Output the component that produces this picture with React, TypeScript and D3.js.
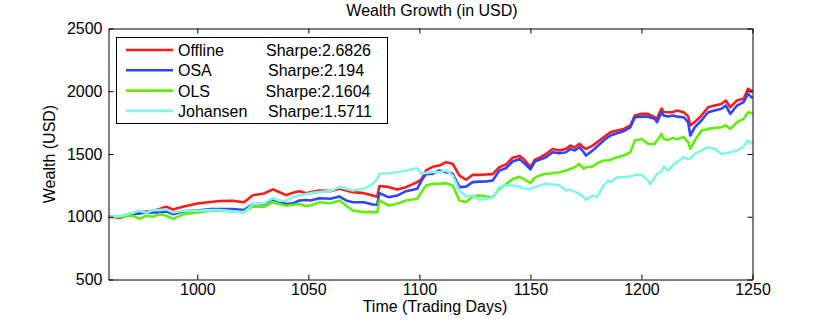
import React, { useRef, useEffect } from 'react';
import * as d3 from 'd3';

const DAYS = [
  960, 965, 971, 974, 977, 980, 983, 986, 989, 994,
  1000, 1006, 1010, 1016, 1021, 1025, 1030, 1034, 1037, 1040,
  1043, 1046, 1049, 1051, 1055, 1060, 1064, 1067, 1070, 1075,
  1079, 1081, 1082, 1086, 1090, 1094, 1099, 1101, 1103, 1106,
  1109, 1112, 1115, 1118, 1121, 1124, 1127, 1130, 1133, 1136,
  1139, 1142, 1145, 1147, 1150, 1152, 1154, 1157, 1160, 1163,
  1166, 1168, 1170, 1172, 1174, 1175, 1178, 1180, 1183, 1185,
  1186, 1189, 1192, 1195, 1197, 1200, 1203, 1204, 1206, 1207,
  1209, 1210, 1212, 1214, 1216, 1219, 1221, 1222, 1224, 1227,
  1230, 1233, 1236, 1238, 1240, 1243, 1246, 1248, 1250,
];

const OFFLINE = [
  1000, 992, 1025, 1035, 1042, 1048, 1062, 1080, 1058, 1082,
  1105, 1118, 1125, 1128, 1115, 1172, 1185, 1218, 1195, 1172,
  1192, 1204, 1188, 1196, 1209, 1204, 1223, 1209, 1196, 1188,
  1169, 1160, 1245, 1238, 1217, 1236, 1276, 1300, 1370, 1398,
  1408, 1435, 1422, 1329, 1295, 1335, 1334, 1337, 1340, 1395,
  1416, 1470, 1485, 1460, 1395, 1455, 1470, 1500, 1540, 1528,
  1541, 1567, 1552, 1581, 1550, 1541, 1567, 1594, 1634, 1660,
  1674, 1687, 1700, 1727, 1806, 1820, 1820, 1810, 1793, 1780,
  1862, 1835, 1833, 1833, 1846, 1833, 1800, 1727, 1755, 1806,
  1873, 1886, 1899, 1926, 1873, 1926, 1940, 2020, 1995,
];

const OSA = [
  1000, 1000, 1021, 1027, 1035, 1035, 1035, 1043, 1021, 1043,
  1050, 1061, 1061, 1061, 1053, 1101, 1101, 1141, 1115, 1101,
  1107, 1130, 1133, 1130, 1148, 1143, 1161, 1130, 1116, 1116,
  1098, 1095, 1188, 1156, 1169, 1204, 1223, 1289, 1342, 1342,
  1369, 1355, 1342, 1236, 1240, 1276, 1280, 1281, 1289, 1369,
  1387, 1440, 1460, 1430, 1378, 1440, 1453, 1474, 1514, 1506,
  1514, 1541, 1528, 1554, 1514, 1488, 1528, 1559, 1607, 1635,
  1647, 1666, 1682, 1713, 1793, 1798, 1798, 1790, 1780, 1753,
  1833, 1806, 1798, 1806, 1798, 1793, 1753, 1647, 1713, 1767,
  1833, 1846, 1860, 1886, 1820, 1886, 1913, 1979, 1945,
];

const OLS = [
  1000, 1000, 1008, 983, 1008, 1000, 1021, 1008, 983, 1021,
  1035, 1048, 1048, 1043, 1040, 1080, 1080, 1115, 1101, 1088,
  1095, 1100, 1085, 1090, 1116, 1108, 1130, 1090, 1050, 1037,
  1037, 1035, 1130, 1090, 1103, 1130, 1143, 1200, 1249, 1262,
  1262, 1268, 1249, 1130, 1115, 1161, 1169, 1161, 1156, 1222,
  1260, 1300, 1318, 1300, 1268, 1312, 1328, 1342, 1347, 1355,
  1368, 1380, 1395, 1421, 1381, 1395, 1400, 1427, 1448, 1450,
  1453, 1474, 1488, 1514, 1607, 1620, 1581, 1580, 1581, 1607,
  1660, 1620, 1612, 1628, 1620, 1634, 1594, 1541, 1607, 1687,
  1700, 1708, 1713, 1727, 1700, 1753, 1780, 1833, 1825,
];

const JOHANSEN = [
  1000, 1005, 1032, 1048, 1032, 1053, 1053, 1059, 1035, 1048,
  1048, 1053, 1053, 1043, 1032, 1101, 1107, 1149, 1128, 1128,
  1155, 1170, 1181, 1188, 1196, 1204, 1236, 1223, 1209, 1223,
  1262, 1300, 1342, 1347, 1355, 1369, 1387, 1342, 1350, 1355,
  1355, 1369, 1329, 1209, 1161, 1169, 1135, 1143, 1151, 1236,
  1250, 1249, 1240, 1225, 1220, 1235, 1249, 1262, 1257, 1250,
  1209, 1214, 1200, 1182, 1156, 1134, 1169, 1156, 1249, 1288,
  1275, 1315, 1315, 1320, 1335, 1335, 1288, 1257, 1315, 1340,
  1360, 1400, 1368, 1408, 1435, 1474, 1461, 1461, 1501, 1527,
  1554, 1541, 1501, 1506, 1514, 1527, 1559, 1607, 1581,
];

const NAMES = ['Offline', 'OSA', 'OLS', 'Johansen'];
const SHARPE = ['Sharpe:2.6826', 'Sharpe:2.194', 'Sharpe:2.1604', 'Sharpe:1.5711'];
const COLORS = ['#ff1a1a', '#2e44ff', '#5fef0a', '#80f6e6'];
const X_TICKS = [1000, 1050, 1100, 1150, 1200, 1250];
const Y_TICKS = [500, 1000, 1500, 2000, 2500];

const FONT = '"Liberation Sans", Arial, Helvetica, sans-serif';

export default function App() {
  const svgRef = useRef<SVGSVGElement>(null);

  useEffect(() => {
    const svg = d3.select(svgRef.current);
    svg.selectAll('*').remove();

    const width = 830;
    const height = 323;
    const left = 108.5, right = 752.5, top = 28.5, bottom = 279.5;

    const x = d3.scaleLinear().domain([960, 1250]).range([left, right]);
    const y = d3.scaleLinear().domain([500, 2500]).range([bottom, top]);

    svg.attr('width', width).attr('height', height);
    svg.append('rect').attr('width', width).attr('height', height).attr('fill', '#fff');

    const series = [OFFLINE, OSA, OLS, JOHANSEN];

    const line = d3.line<number>()
      .x((d, i) => x(DAYS[i]))
      .y(d => y(d));

    const lines = svg.append('g');
    series.forEach((vals, k) => {
      lines.append('path')
        .datum(vals)
        .attr('d', line)
        .attr('fill', 'none')
        .attr('stroke', COLORS[k])
        .attr('stroke-width', 2.6)
        .attr('stroke-linejoin', 'round');
    });

    // axes, ticks pointing inward like matlab
    const styleAxis = (g: any) => {
      g.selectAll('path').attr('stroke', '#000');
      g.selectAll('line').attr('stroke', '#000');
      g.selectAll('text')
        .attr('fill', '#000')
        .style('font-family', FONT)
        .style('font-size', '16px');
    };

    const fmt = d3.format('d');

    svg.append('g')
      .attr('transform', `translate(0,${bottom})`)
      .call(d3.axisBottom(x).tickValues(X_TICKS).tickFormat(fmt).tickSizeInner(-5).tickSizeOuter(0).tickPadding(4.5))
      .call(styleAxis);

    svg.append('g')
      .attr('transform', `translate(0,${top})`)
      .call(d3.axisTop(x).tickValues(X_TICKS).tickSizeInner(-5).tickSizeOuter(0).tickFormat(() => ''))
      .call(styleAxis);

    svg.append('g')
      .attr('transform', `translate(${left},0)`)
      .call(d3.axisLeft(y).tickValues(Y_TICKS).tickFormat(fmt).tickSizeInner(-5).tickSizeOuter(0).tickPadding(6))
      .call(styleAxis);

    svg.append('g')
      .attr('transform', `translate(${right},0)`)
      .call(d3.axisRight(y).tickValues(Y_TICKS).tickSizeInner(-5).tickSizeOuter(0).tickFormat(() => ''))
      .call(styleAxis);

    svg.selectAll('.domain').attr('stroke-width', 1);

    // title and axis labels
    svg.append('text')
      .attr('x', 432).attr('y', 16)
      .attr('text-anchor', 'middle')
      .style('font-family', FONT).style('font-size', '16px')
      .text('Wealth Growth (in USD)');

    svg.append('text')
      .attr('x', 435).attr('y', 312)
      .attr('text-anchor', 'middle')
      .style('font-family', FONT).style('font-size', '16px')
      .text('Time (Trading Days)');

    svg.append('text')
      .attr('transform', `translate(55,${(top + bottom) / 2}) rotate(-90)`)
      .attr('text-anchor', 'middle')
      .style('font-family', FONT).style('font-size', '16px')
      .text('Wealth (USD)');

    // legend
    const legend = svg.append('g');
    legend.append('rect')
      .attr('x', 116.5).attr('y', 37.5)
      .attr('width', 271).attr('height', 86)
      .attr('fill', '#fff')
      .attr('stroke', '#000')
      .attr('stroke-width', 1);

    const sharpeX = [266, 268, 265.5, 268];
    NAMES.forEach((name, k) => {
      const cy = 50 + k * 20.3;
      legend.append('line')
        .attr('x1', 126).attr('x2', 173)
        .attr('y1', cy).attr('y2', cy)
        .attr('stroke', COLORS[k])
        .attr('stroke-width', 2.6);
      legend.append('text')
        .attr('x', 178).attr('y', cy + 6)
        .style('font-family', FONT).style('font-size', '16px')
        .text(name);
      legend.append('text')
        .attr('x', sharpeX[k]).attr('y', cy + 6)
        .style('font-family', FONT).style('font-size', '16px')
        .text(SHARPE[k]);
    });
  }, []);

  return (
    <svg ref={svgRef} style={{ position: 'absolute', left: 0, top: 0 }} />
  );
}
